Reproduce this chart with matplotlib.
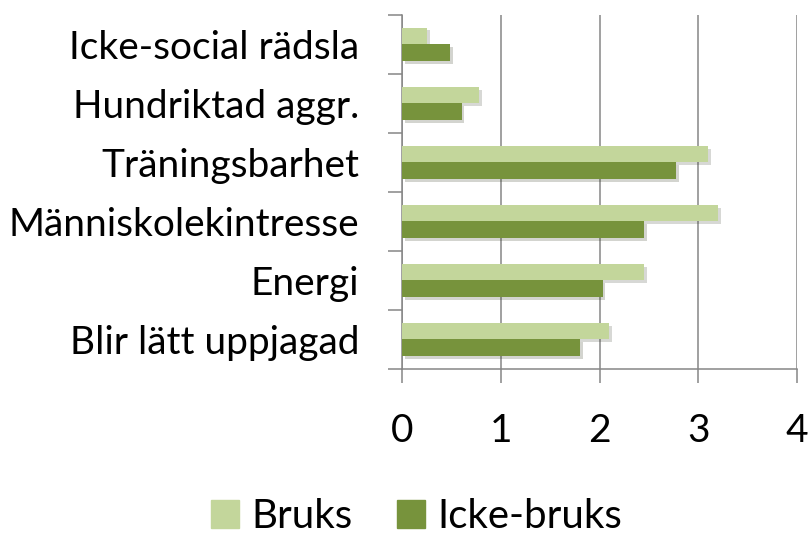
import matplotlib.pyplot as plt
import matplotlib.patheffects as pe
from matplotlib.patches import Patch
import numpy as np

categories = ["Icke-social rädsla", "Hundriktad aggr.", "Träningsbarhet",
              "Människolekintresse", "Energi", "Blir lätt uppjagad"]
bruks = [0.25, 0.78, 3.10, 3.20, 2.45, 2.10]
icke_bruks = [0.48, 0.60, 2.78, 2.45, 2.03, 1.80]
x_ticks = [0, 1, 2, 3, 4]

light = "#C3D69B"
dark = "#77933C"
grey = "#868686"
font = "Lato"
fs = 28

fig = plt.figure(figsize=(8.09, 5.35), dpi=100)
ax = fig.add_axes([0.4975, 0.3103, 0.4873, 0.6622])

n = len(categories)
pos = np.arange(n)[::-1]  # first category on top
h = 0.28
shadow = [pe.SimplePatchShadow(offset=(2, -2), alpha=0.2), pe.Normal()]

ax.barh(pos + h / 2, bruks, height=h, color=light, zorder=3, path_effects=shadow)
ax.barh(pos - h / 2, icke_bruks, height=h, color=dark, zorder=3, path_effects=shadow)

ax.set_xlim(0, 4)
ax.set_ylim(-0.5, n - 0.5)
ax.set_xticks(x_ticks)
ax.set_xticklabels([str(t) for t in x_ticks], fontsize=fs, family=font)
ax.xaxis.grid(True, color=grey, linewidth=1.1, zorder=0)
ax.set_axisbelow(True)

ax.set_yticks(np.arange(n + 1) - 0.5)
ax.set_yticklabels([])
ax.set_yticks(pos, minor=True)
ax.set_yticklabels(categories, minor=True, fontsize=fs, family=font)

ax.tick_params(axis="y", which="major", length=10, width=1.1, color=grey, direction="out")
ax.tick_params(axis="y", which="minor", length=0, pad=31)
ax.tick_params(axis="x", length=10, width=1.1, color=grey, direction="out", pad=22)

for s in ["top", "right"]:
    ax.spines[s].set_visible(False)
for s in ["left", "bottom"]:
    ax.spines[s].set_color(grey)
    ax.spines[s].set_linewidth(1.1)

handles = [Patch(color=light, label="Bruks"), Patch(color=dark, label="Icke-bruks")]
fig.legend(handles=handles, loc="lower center", bbox_to_anchor=(0.515, -0.068), ncol=2,
           frameon=False, prop={"family": font, "size": fs + 1},
           handlelength=0.7, handleheight=0.7, handletextpad=0.3, columnspacing=1.1)

fig.savefig("out.png", dpi=100)
